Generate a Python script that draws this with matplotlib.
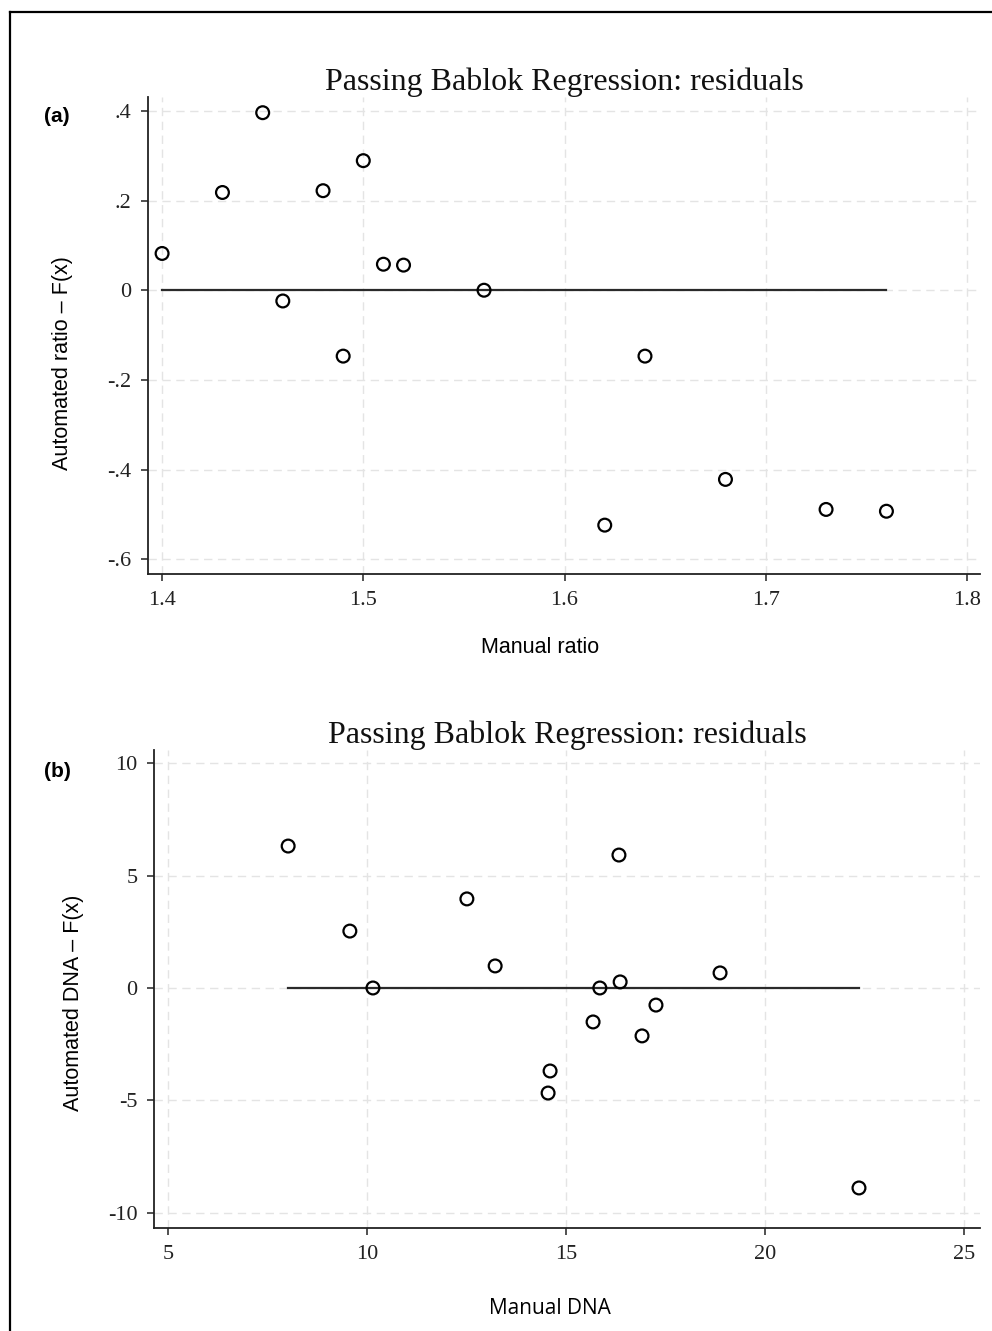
import numpy as np
import matplotlib
matplotlib.use("Agg")
import matplotlib.pyplot as plt
from matplotlib.lines import Line2D

# panel (a): ratio
manual_ratio = [1.40, 1.43, 1.45, 1.46, 1.48, 1.49, 1.50, 1.51, 1.52, 1.56,
                1.62, 1.64, 1.68, 1.73, 1.76]
resid_ratio = [0.082, 0.218, 0.396, -0.024, 0.222, -0.147, 0.289, 0.058, 0.056, 0.0,
               -0.524, -0.147, -0.422, -0.489, -0.493]
ratio_xticks = [1.4, 1.5, 1.6, 1.7, 1.8]
ratio_xlabels = ["1.4", "1.5", "1.6", "1.7", "1.8"]
ratio_yticks = [0.4, 0.2, 0.0, -0.2, -0.4, -0.6]
ratio_ylabels = [".4", ".2", "0", "-.2", "-.4", "-.6"]

# panel (b): DNA
manual_dna = [8.02, 9.57, 10.15, 12.51, 13.22, 14.55, 14.60, 15.68, 15.85, 16.33,
              16.36, 16.91, 17.26, 18.87, 22.36]
resid_dna = [6.31, 2.53, 0.0, 3.96, 0.98, -4.67, -3.69, -1.51, 0.0, 5.91,
             0.27, -2.13, -0.76, 0.67, -8.89]
dna_xticks = [5, 10, 15, 20, 25]
dna_xlabels = ["5", "10", "15", "20", "25"]
dna_yticks = [10, 5, 0, -5, -10]
dna_ylabels = ["10", "5", "0", "-5", "-10"]

title = "Passing Bablok Regression: residuals"
serif = "Liberation Serif"
sans = "Liberation Sans"

W, H = 992, 1331
fig = plt.figure(figsize=(W / 100, H / 100), dpi=100)


def px_axes(l, t, r, b):
    return fig.add_axes([l / W, 1 - b / H, (r - l) / W, (b - t) / H])


def style(ax, xt, xl, yt, yl):
    for s in ["top", "right"]:
        ax.spines[s].set_visible(False)
    for s in ["left", "bottom"]:
        ax.spines[s].set_color("#222222")
        ax.spines[s].set_linewidth(1.3)
    ax.set_xticks(xt)
    ax.set_xticklabels(xl, fontfamily=serif, fontsize=16, color="#222222")
    ax.set_yticks(yt)
    ax.set_yticklabels(yl, fontfamily=serif, fontsize=16, color="#222222")
    ax.tick_params(direction="out", length=5, width=1.1, color="#222222", pad=7)
    ax.grid(True, color="#e4e4e4", linestyle=(0, (6, 4)), linewidth=1)
    ax.set_axisbelow(True)


# panel a
ax1 = px_axes(148, 97, 980, 574)
ax1.plot([min(manual_ratio), max(manual_ratio)], [0, 0], color="#2a2a2a", lw=1.6, zorder=2)
ax1.scatter(manual_ratio, resid_ratio, s=85, facecolors="none", edgecolors="black",
            linewidths=1.6, zorder=3)
ax1.set_xlim(1.393, 1.8065)
ax1.set_ylim(-0.633, 0.431)
style(ax1, ratio_xticks, ratio_xlabels, ratio_yticks, ratio_ylabels)
ax1.set_title(title, fontfamily=serif, fontsize=23, pad=5, color="#111111")
ax1.set_xlabel("Manual ratio", fontfamily=sans, fontsize=15.5)
ax1.set_ylabel("Automated ratio \u2013 F(x)", fontfamily=sans, fontsize=15.5)
ax1.xaxis.set_label_coords((540 - 148) / 832, -(637 - 574) / 477)
ax1.yaxis.set_label_coords(-(148 - 73) / 832, (574 - 363) / 477)

# panel b
ax2 = px_axes(154, 750, 980, 1228)
ax2.plot([min(manual_dna), max(manual_dna)], [0, 0], color="#2a2a2a", lw=1.6, zorder=2)
ax2.scatter(manual_dna, resid_dna, s=85, facecolors="none", edgecolors="black",
            linewidths=1.6, zorder=3)
ax2.set_xlim(4.65, 25.4)
ax2.set_ylim(-10.67, 10.58)
style(ax2, dna_xticks, dna_xlabels, dna_yticks, dna_ylabels)
ax2.set_title(title, fontfamily=serif, fontsize=23, pad=5, color="#111111")
ax2.set_xlabel("Manual DNA", fontfamily="Open Sans", fontsize=15)
ax2.set_ylabel("Automated DNA \u2013 F(x)", fontfamily=sans, fontsize=15.5)
ax2.xaxis.set_label_coords((550 - 154) / 826, -(1298 - 1228) / 478)
ax2.yaxis.set_label_coords(-(154 - 84) / 826, (1228 - 1003) / 478)

# panel letters
fig.text(57 / W, 1 - 116 / H, "(a)", fontfamily=sans, fontweight="bold", fontsize=15,
         ha="center", va="center")
fig.text(57 / W, 1 - 772 / H, "(b)", fontfamily=sans, fontweight="bold", fontsize=15,
         ha="center", va="center")

# frame (top and left only)
fig.add_artist(Line2D([10 / W, 1.0], [1 - 12 / H, 1 - 12 / H], color="black", lw=1.6,
                      transform=fig.transFigure))
fig.add_artist(Line2D([10 / W, 10 / W], [0.0, 1 - 12 / H], color="black", lw=1.6,
                      transform=fig.transFigure))

fig.savefig("out.png", dpi=100, facecolor="white")
